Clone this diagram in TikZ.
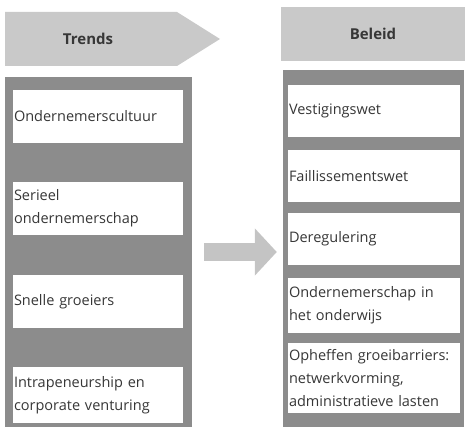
\documentclass[tikz,border=0pt]{standalone}
\usepackage{fontspec}
\setmainfont{Open Sans}
\usetikzlibrary{arrows.meta}
\definecolor{headgray}{RGB}{201,201,201}
\definecolor{panelgray}{RGB}{140,140,140}
\definecolor{arrowgray}{RGB}{196,196,196}
\definecolor{textgray}{RGB}{55,55,55}
\begin{document}
\begin{tikzpicture}[x=1pt, y=-1pt,
    headtext/.style={text=textgray, font=\fontsize{15}{18}\selectfont\bfseries},
    panel/.style={fill=panelgray, inner sep=0pt},
    lbox/.style={fill=white, text=textgray, font=\fontsize{14.5}{23}\selectfont,
      align=left, text width=168pt, inner xsep=1pt, inner ysep=0pt},
    rbox/.style={lbox, text width=170pt}]
    \useasboundingbox (0,0) rectangle (467,428);

    % trends header
    \path[fill=headgray] (5,12) -- (177,12) -- (220,39) -- (177,66) -- (5,66) -- cycle;
    \node[headtext] (trends) at (88,39) {Trends};

    % beleid header
    \node[fill=headgray, minimum width=184pt, minimum height=54pt, inner sep=0pt] (beleidhead) at (373,34) {};
    \node[headtext] (beleid) at (beleidhead) {Beleid};

    % panels
    \node[panel, minimum width=187pt, minimum height=350pt] (lpanel) at (98.5,252) {};
    \node[panel, minimum width=181pt, minimum height=357pt] (rpanel) at (373.5,248.5) {};

    % trends
    \node[lbox, minimum height=53pt] (t1) at (98,116.5) {Ondernemerscultuur};
    \node[lbox, minimum height=53pt] (t2) at (98,208.5) {Serieel\\ondernemerschap};
    \node[lbox, minimum height=53pt] (t3) at (98,301.5) {Snelle groeiers};
    \node[lbox, minimum height=56pt] (t4) at (98,395) {Intrapeneurship en\\corporate venturing};

    % beleid
    \node[rbox, minimum height=52pt] (b1) at (374,111) {Vestigingswet};
    \node[rbox, minimum height=52pt] (b2) at (374,176) {Faillissementswet};
    \node[rbox, minimum height=52pt] (b3) at (374,239) {Deregulering};
    \node[rbox, minimum height=55pt] (b4) at (374,305.5) {Ondernemerschap in\\het onderwijs};
    \node[rbox, minimum height=70pt] (b5) at (374,378) {Opheffen groeibarriers:\\netwerkvorming,\\administratieve lasten};

    % arrow
    \draw[arrowgray, line width=18pt, -{Triangle[width=46pt,length=22pt]},
      shorten <=12pt, shorten >=6pt] (lpanel.east) -- (lpanel.east -| rpanel.west);

\end{tikzpicture}
\end{document}
